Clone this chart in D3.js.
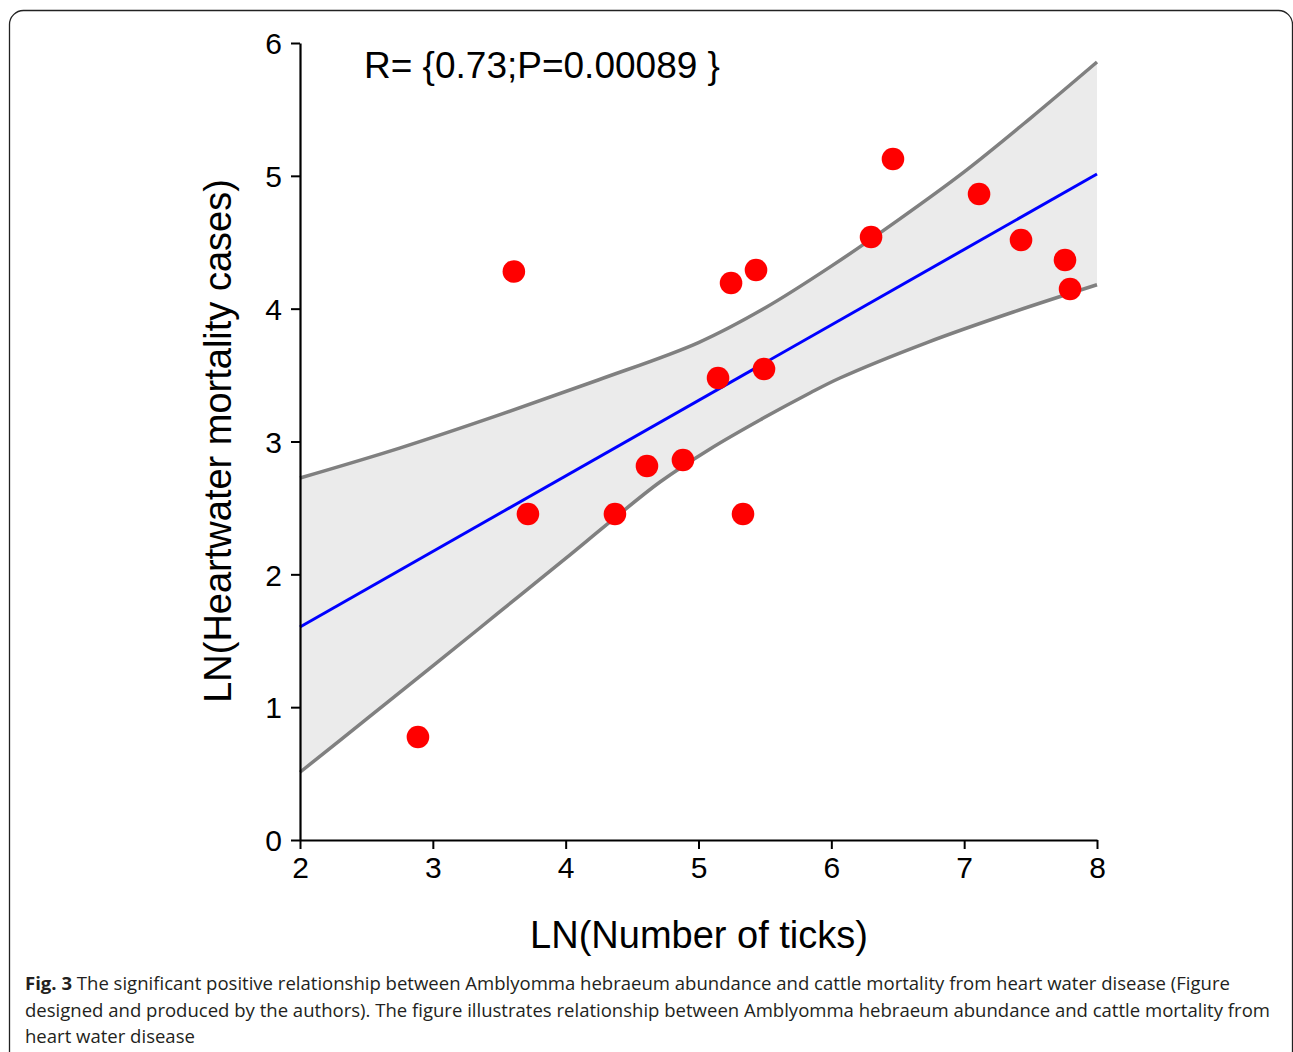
<!DOCTYPE html>
<html>
<head>
<meta charset="utf-8">
<script src="https://cdn.jsdelivr.net/npm/d3@7"></script>
<style>
  body { margin: 0; background: #fff; }
  svg { display: block; }
</style>
</head>
<body>
<div id="chart"></div>
<script>
// values
var tickX = [3.61, 2.888, 3.716, 4.371, 4.612, 4.883, 5.147, 5.245, 5.335, 5.433, 5.493, 6.299, 6.464, 7.112, 7.428, 7.759, 7.797];
var mortality = [4.28, 0.775, 2.454, 2.454, 2.816, 2.861, 3.478, 4.193, 2.454, 4.291, 3.546, 4.540, 5.127, 4.863, 4.517, 4.366, 4.148];

// fitted line end points
var fitX = [2, 8],
    fitY = [1.604, 5.014];

// confidence band edges, read at a few x positions
var upperX = [2, 2.75, 3.5, 4.25, 5, 5.5, 6, 6.5, 7, 7.5, 8],
    upperY = [2.725, 2.95, 3.2, 3.465, 3.745, 4.005, 4.32, 4.665, 5.03, 5.435, 5.857];
var lowerX = [2, 2.5, 3, 3.5, 4, 4.334, 4.71, 5.087, 5.463, 5.839, 6.065, 6.72, 7.37, 8],
    lowerY = [0.51, 0.91, 1.31, 1.715, 2.12, 2.395, 2.695, 2.944, 3.162, 3.365, 3.478, 3.745, 3.975, 4.18];

var xTicks = [2, 3, 4, 5, 6, 7, 8],
    yTicks = [0, 1, 2, 3, 4, 5, 6];

var statText = "R= {0.73;P=0.00089 }";
var captionLines = [
    ["Fig. 3", " The significant positive relationship between Amblyomma hebraeum abundance and cattle mortality from heart water disease (Figure"],
    ["", "designed and produced by the authors). The figure illustrates relationship between Amblyomma hebraeum abundance and cattle mortality from"],
    ["", "heart water disease"]
];

var W = 1293, H = 1052;
var svg = d3.select("#chart").append("svg")
    .attr("width", W)
    .attr("height", H);

// outer frame with rounded corners
svg.append("rect")
    .attr("x", 9.5).attr("y", 10.5)
    .attr("width", W - 10).attr("height", H + 20)
    .attr("rx", 14)
    .attr("fill", "none")
    .attr("stroke", "#222")
    .attr("stroke-width", 1.3);

var x = d3.scaleLinear().domain([2, 8]).range([300, 1097]);
var y = d3.scaleLinear().domain([0, 6]).range([840, 43]);

var upper = upperX.map(function(d, i) { return [x(d), y(upperY[i])]; }),
    lower = lowerX.map(function(d, i) { return [x(d), y(lowerY[i])]; });

var edge = d3.line().curve(d3.curveCatmullRom);

// shaded band: upper edge, then lower edge backwards
svg.append("path")
    .attr("fill", "#ebebeb")
    .attr("d", edge(upper) + "L" + edge(lower.slice().reverse()).slice(1) + "Z");

[upper, lower].forEach(function(pts) {
    svg.append("path")
        .attr("fill", "none")
        .attr("stroke", "#808080")
        .attr("stroke-width", 3.5)
        .attr("d", edge(pts));
});

// regression line
svg.append("line")
    .attr("x1", x(fitX[0])).attr("y1", y(fitY[0]))
    .attr("x2", x(fitX[1])).attr("y2", y(fitY[1]))
    .attr("stroke", "#0000ff")
    .attr("stroke-width", 3);

// points
svg.selectAll("circle.pt")
    .data(tickX)
    .enter()
    .append("circle")
        .attr("class", "pt")
        .attr("cx", function(d) { return x(d); })
        .attr("cy", function(d, i) { return y(mortality[i]); })
        .attr("r", 11.3)
        .attr("fill", "#ff0000");

// axes
var font = "'Liberation Sans', Arial, sans-serif";

var gx = svg.append("g")
    .attr("transform", "translate(0,840)")
    .call(d3.axisBottom(x).tickValues(xTicks).tickFormat(d3.format("d"))
        .tickSize(9).tickPadding(8).tickSizeOuter(0));
var gy = svg.append("g")
    .attr("transform", "translate(300,0)")
    .call(d3.axisLeft(y).tickValues(yTicks).tickFormat(d3.format("d"))
        .tickSize(9).tickPadding(9).tickSizeOuter(0));

[gx, gy].forEach(function(g) {
    g.select(".domain").attr("stroke", "#000").attr("stroke-width", 2.2);
    g.selectAll(".tick line").attr("stroke", "#000").attr("stroke-width", 2);
    g.selectAll(".tick text")
        .attr("fill", "#000")
        .style("font-family", font)
        .style("font-size", "30px");
});
gy.selectAll(".tick text").attr("dy", "0.36em");

// axis titles
svg.append("text")
    .attr("x", 699).attr("y", 948)
    .attr("text-anchor", "middle")
    .style("font-family", font)
    .style("font-size", "38px")
    .text("LN(Number of ticks)");

svg.append("text")
    .attr("transform", "translate(231,441) rotate(-90)")
    .attr("text-anchor", "middle")
    .style("font-family", font)
    .style("font-size", "38px")
    .text("LN(Heartwater mortality cases)");

// stat annotation
svg.append("text")
    .attr("x", 364).attr("y", 78)
    .style("font-family", font)
    .style("font-size", "37px")
    .text(statText);

// caption
var cap = svg.append("g")
    .style("font-family", "'Open Sans', 'Noto Sans', sans-serif")
    .style("font-size", "18.55px")
    .attr("fill", "#231f20");
captionLines.forEach(function(line, i) {
    var t = cap.append("text")
        .attr("x", 25)
        .attr("y", 990 + i * 26.5);
    if (line[0]) {
        t.append("tspan").attr("font-weight", "bold").text(line[0]);
    }
    t.append("tspan").text(line[1]);
});
</script>
</body>
</html>
